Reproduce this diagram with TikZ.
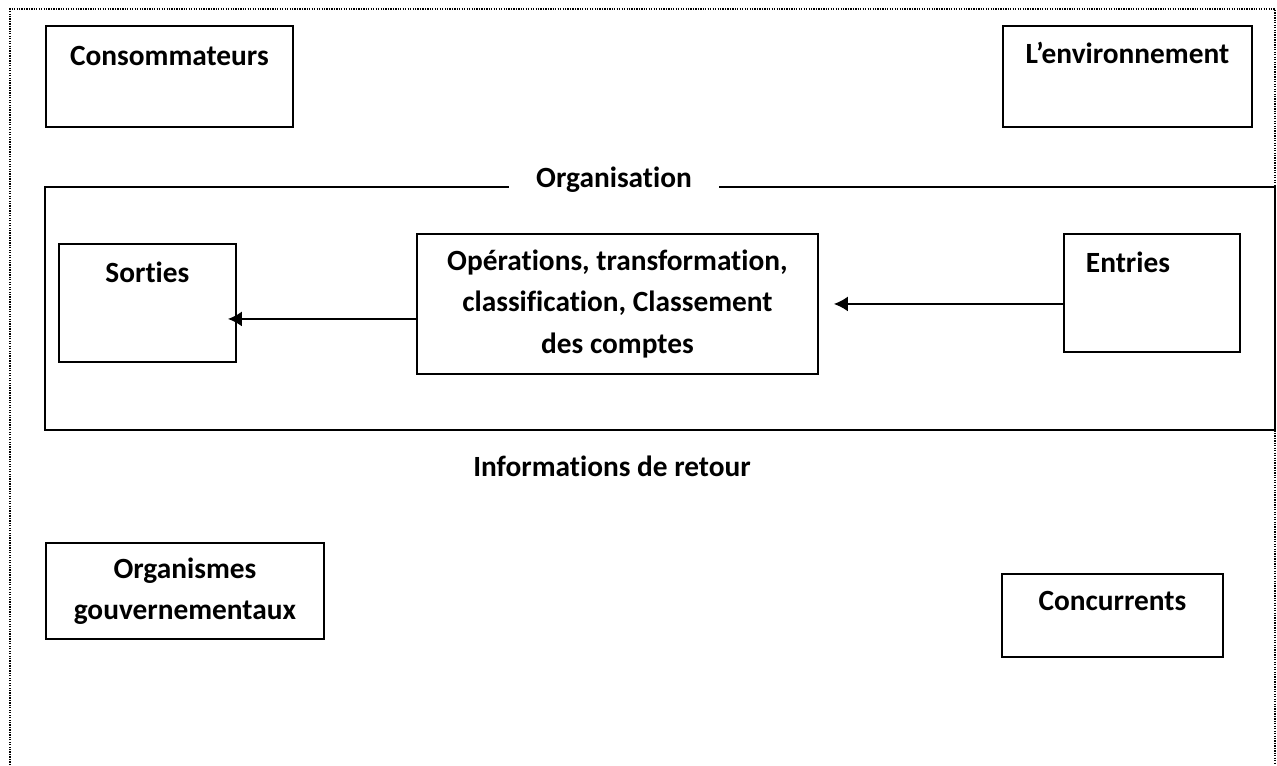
\documentclass[tikz,border=0pt]{standalone}
\usepackage{fontspec}
\setmainfont{Carlito}[Ligatures=NoCommon]
\usetikzlibrary{arrows.meta,positioning}

\begin{document}
\begin{tikzpicture}[x=0.02cm,y=-0.02cm,
    every node/.style={font=\bfseries\fontsize{16.7}{23.5}\selectfont},
    boite/.style={draw,line width=1.1pt,inner sep=0pt},
    fleche/.style={-{Latex[length=0.28cm,width=0.3cm]},line width=1.1pt}]
    \useasboundingbox (0,0) rectangle (1277,765);
    % cadre pointille, ouvert en bas
    \draw[line width=0.7pt,dash pattern=on 0.7pt off 0.7pt] (10,765) -- (10,9) -- (1275,9) -- (1275,765);

    \node[boite,anchor=north west,minimum width=4.94cm,text height=0.8cm,text depth=1.22cm] (cons) at (45,25) {Consommateurs};
    \node[boite,anchor=north west,minimum width=4.98cm,text height=0.76cm,text depth=1.26cm] (env) at (1002,25) {L’environnement};

    % organisation
    \node[anchor=base,inner xsep=0.54cm] (titre) at (614,187) {Organisation};
    \draw[line width=1.1pt] (titre.base west) -- (45,187) -- (45,430) -- (1275,430) -- (1275,187) -- (titre.base east);
    \node[boite,anchor=north west,minimum width=3.54cm,text height=0.78cm,text depth=1.58cm] (sorties) at (58,243) {Sorties};
    \node[boite,anchor=north west,minimum width=8.02cm,minimum height=2.8cm,align=center] (ops) at (416,233) {Opérations, transformation,\\classification, Classement\\des comptes};
    \node[boite,anchor=north west,inner xsep=0.44cm,text width=2.64cm,align=left,text height=0.78cm,text depth=1.58cm] (entries) at (1063,233) {Entries};
    \node (retour) at (612,466) {Informations de retour};

    \node[boite,anchor=north west,minimum width=5.56cm,minimum height=1.92cm,align=center] (orga) at (45,542) {Organismes\\gouvernementaux};
    \node[boite,anchor=north west,minimum width=4.42cm,text height=0.74cm,text depth=0.92cm] (conc) at (1001,573) {Concurrents};

    \draw[fleche,shorten >=0.3cm] (entries.west |- ops.east) -- (ops.east);
    \coordinate (depart) at ([yshift=-0.3cm]ops.west);
    \draw[fleche,shorten >=-0.18cm] (depart) -- (depart -| sorties.east);
\end{tikzpicture}
\end{document}
